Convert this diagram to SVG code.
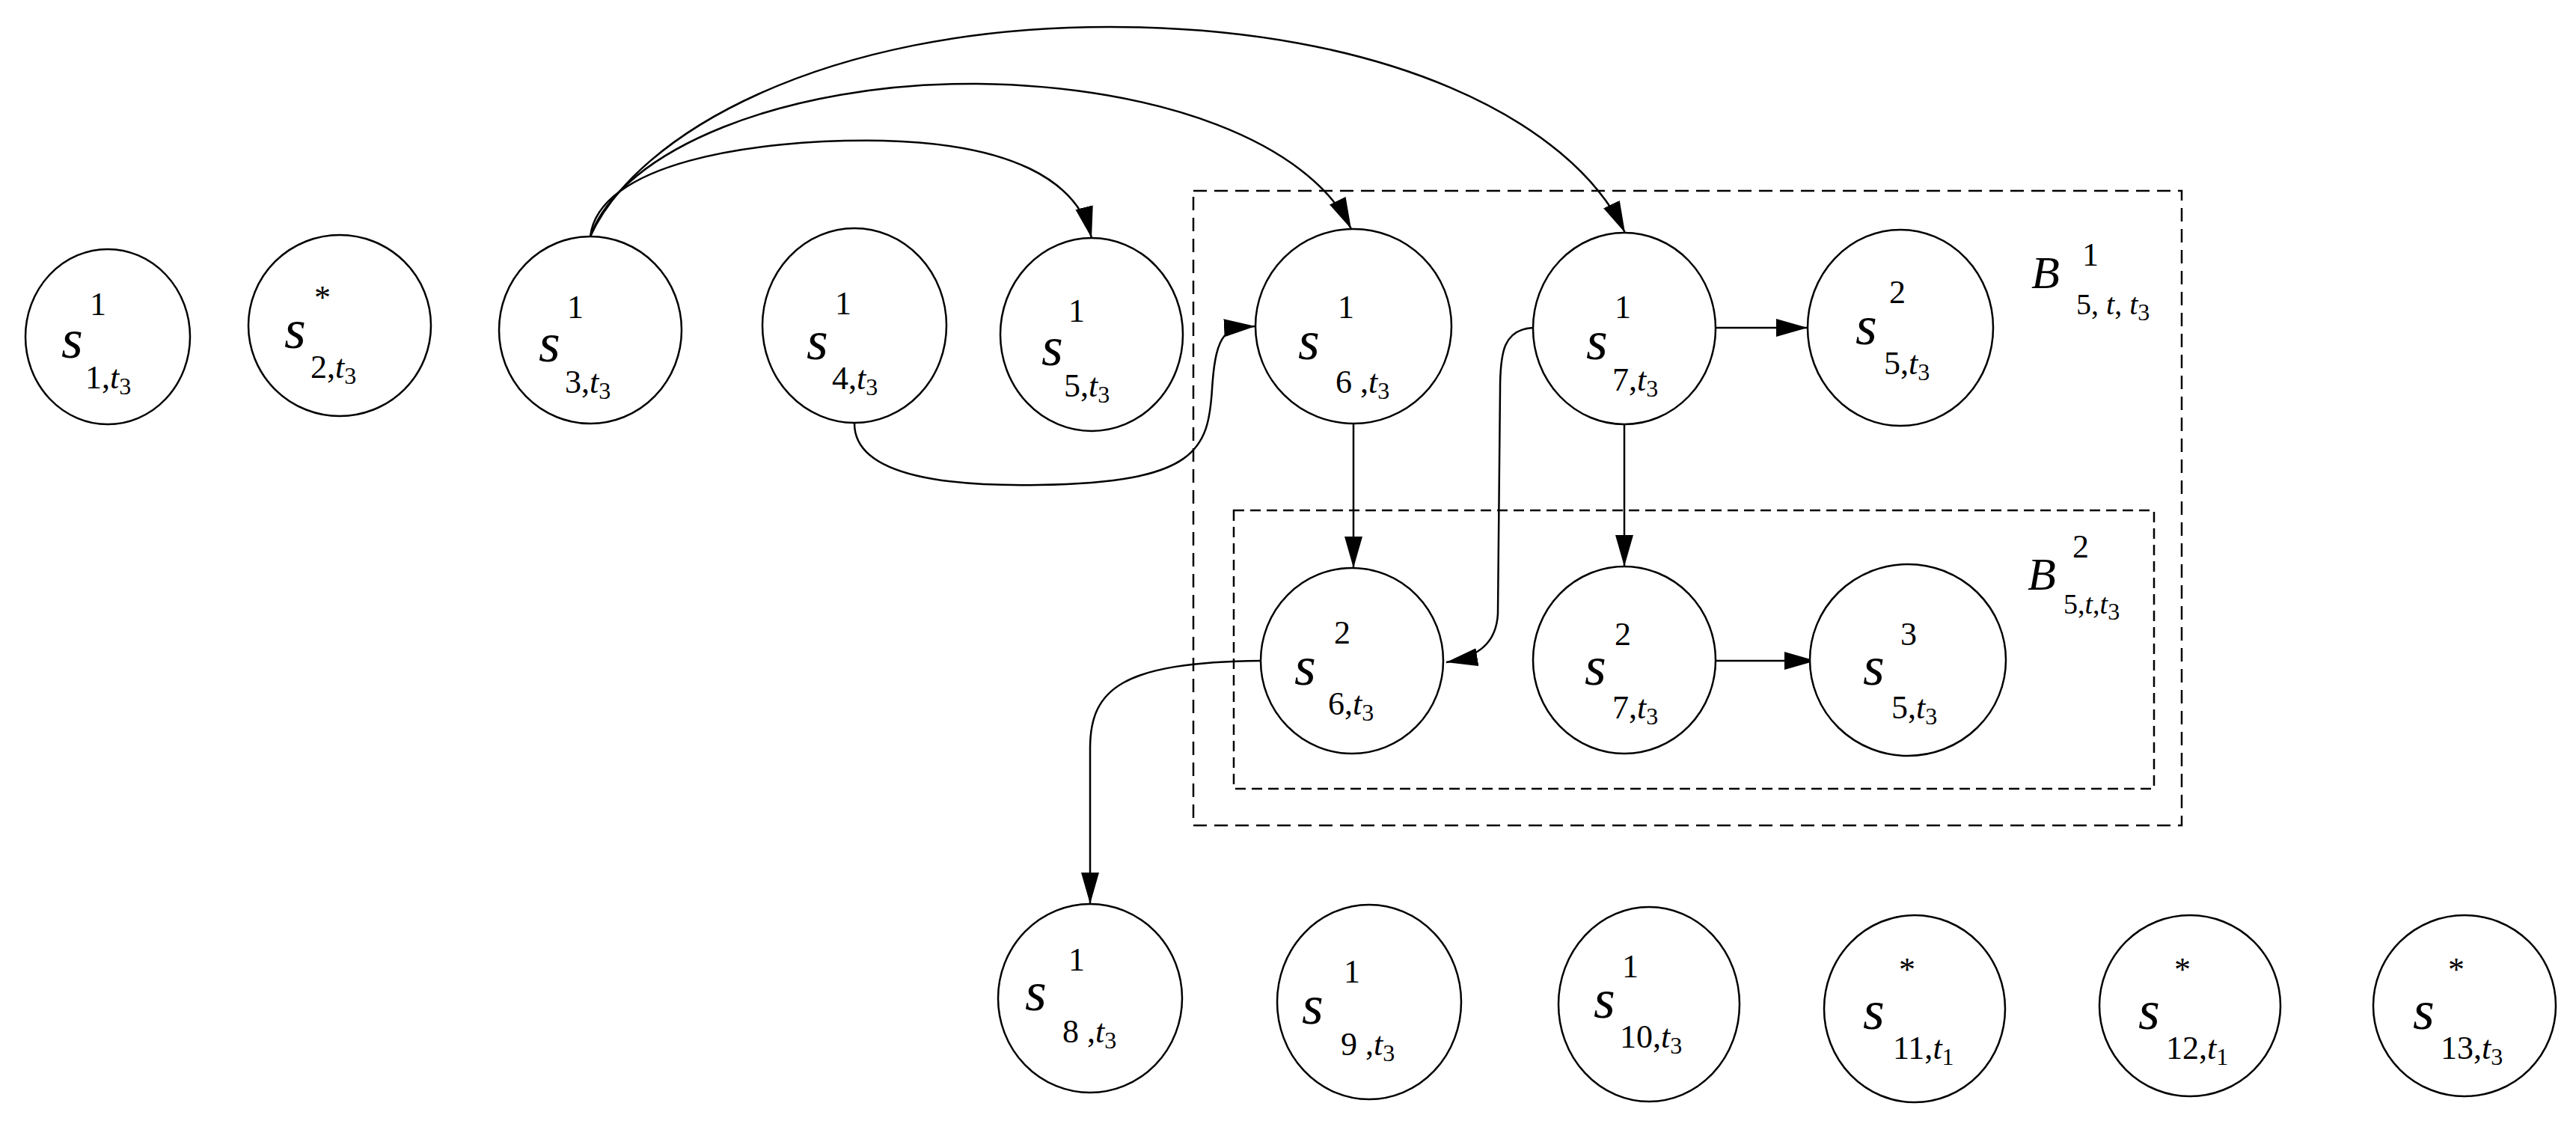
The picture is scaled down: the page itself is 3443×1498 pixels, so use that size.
<svg xmlns="http://www.w3.org/2000/svg" width="3443" height="1498" viewBox="0 0 3443 1498">
<style>
.n{fill:#fff;stroke:#000;stroke-width:2.5}
.S{font-family:"Liberation Serif",serif;font-style:italic;font-size:74px}
.p{font-family:"Liberation Serif",serif;font-size:44px}
.i{font-style:italic}
.q{font-size:32px}
.c{fill:none;stroke:#000;stroke-width:2.5}
.box{fill:none;stroke:#000;stroke-width:2.5;stroke-dasharray:18 10}
</style>
<defs>
<marker id="a" markerUnits="userSpaceOnUse" markerWidth="44" markerHeight="26" refX="42" refY="12" orient="auto" viewBox="0 0 44 26">
<path d="M0,0 L42,12 L0,24 z" fill="#000"/>
</marker>
</defs>
<rect class="box" x="1595" y="255" width="1321" height="848"/>
<rect class="box" x="1649" y="682" width="1230" height="372" style="stroke-dasharray:14 8"/>
<g id="B1"><text class="S" x="2715" y="385" style="font-size:62px">B</text><text class="p" x="2783" y="355">1</text><text class="p" x="2775" y="420" style="font-size:40px">5, <tspan class="i">t</tspan>, <tspan class="i">t</tspan><tspan class="q" dy="8">3</tspan></text></g>
<g id="B2"><text class="S" x="2710" y="788" style="font-size:62px">B</text><text class="p" x="2770" y="745">2</text><text class="p" x="2758" y="820" style="font-size:38px">5,<tspan class="i">t</tspan>,<tspan class="i">t</tspan><tspan class="q" dy="8">3</tspan></text></g>
<g id="connectors">
<path class="c" marker-end="url(#a)" d="M789,316 C800,220 1000,185 1180,188 C1350,192 1440,240 1459,318"/>
<path class="c" marker-end="url(#a)" d="M789,316 C830,200 1050,110 1307,112 C1550,115 1750,190 1806,306"/>
<path class="c" marker-end="url(#a)" d="M789,316 C850,180 1100,36 1483,36 C1850,36 2100,160 2172,311"/>
<path class="c" marker-end="url(#a)" d="M1142,566 C1142,640 1280,650 1389,648 C1600,645 1615,600 1620,520 C1625,440 1640,438 1678,436"/>
<path class="c" marker-end="url(#a)" d="M2049,438 C2010,440 2005,470 2005,520 L2002,820 C2000,860 1975,878 1933,885"/>
<path class="c" marker-end="url(#a)" d="M1685,883 C1500,885 1457,920 1457,1000 L1457,1208"/>
<path class="c" marker-end="url(#a)" d="M1809,562 L1809,759"/>
<path class="c" marker-end="url(#a)" d="M2171,565 L2171,757"/>
<path class="c" marker-end="url(#a)" d="M2293,438 L2416,438"/>
<path class="c" marker-end="url(#a)" d="M2293,883 L2427,883"/>
</g>
<g id="n1"><ellipse class="n" cx="144" cy="450" rx="110" ry="117"/><text class="S" x="82" y="478">s</text><text class="p" x="120" y="421">1</text><text class="p" x="114" y="519">1,<tspan class="i">t</tspan><tspan class="q" dy="8">3</tspan></text></g>
<g id="n2"><ellipse class="n" cx="454" cy="435" rx="122" ry="121"/><text class="S" x="380" y="465">s</text><text class="p" x="420" y="412">*</text><text class="p" x="415" y="505">2,<tspan class="i">t</tspan><tspan class="q" dy="8">3</tspan></text></g>
<g id="n3"><ellipse class="n" cx="789" cy="441" rx="122" ry="125"/><text class="S" x="720" y="483">s</text><text class="p" x="758" y="425">1</text><text class="p" x="755" y="525">3,<tspan class="i">t</tspan><tspan class="q" dy="8">3</tspan></text></g>
<g id="n4"><ellipse class="n" cx="1142" cy="435" rx="123" ry="130"/><text class="S" x="1078" y="480">s</text><text class="p" x="1116" y="420">1</text><text class="p" x="1112" y="520">4,<tspan class="i">t</tspan><tspan class="q" dy="8">3</tspan></text></g>
<g id="n5"><ellipse class="n" cx="1459" cy="447" rx="122" ry="129"/><text class="S" x="1392" y="488">s</text><text class="p" x="1428" y="430">1</text><text class="p" x="1422" y="530">5,<tspan class="i">t</tspan><tspan class="q" dy="8">3</tspan></text></g>
<g id="n6a"><ellipse class="n" cx="1809" cy="436" rx="131" ry="130"/><text class="S" x="1735" y="480">s</text><text class="p" x="1788" y="425">1</text><text class="p" x="1785" y="525">6 ,<tspan class="i">t</tspan><tspan class="q" dy="8">3</tspan></text></g>
<g id="n7a"><ellipse class="n" cx="2171" cy="439" rx="122" ry="128"/><text class="S" x="2120" y="480">s</text><text class="p" x="2158" y="425">1</text><text class="p" x="2155" y="522">7,<tspan class="i">t</tspan><tspan class="q" dy="8">3</tspan></text></g>
<g id="n5b"><ellipse class="n" cx="2540" cy="438" rx="124" ry="131"/><text class="S" x="2480" y="460">s</text><text class="p" x="2525" y="405">2</text><text class="p" x="2518" y="500">5,<tspan class="i">t</tspan><tspan class="q" dy="8">3</tspan></text></g>
<g id="n6b"><ellipse class="n" cx="1807" cy="883" rx="122" ry="124"/><text class="S" x="1730" y="915">s</text><text class="p" x="1783" y="860">2</text><text class="p" x="1775" y="955">6,<tspan class="i">t</tspan><tspan class="q" dy="8">3</tspan></text></g>
<g id="n7b"><ellipse class="n" cx="2171" cy="882" rx="122" ry="125"/><text class="S" x="2118" y="915">s</text><text class="p" x="2158" y="862">2</text><text class="p" x="2155" y="960">7,<tspan class="i">t</tspan><tspan class="q" dy="8">3</tspan></text></g>
<g id="n5c"><ellipse class="n" cx="2550" cy="882" rx="131" ry="128"/><text class="S" x="2490" y="915">s</text><text class="p" x="2540" y="862">3</text><text class="p" x="2528" y="960">5,<tspan class="i">t</tspan><tspan class="q" dy="8">3</tspan></text></g>
<g id="n8"><ellipse class="n" cx="1457" cy="1334" rx="123" ry="126"/><text class="S" x="1370" y="1350">s</text><text class="p" x="1428" y="1297">1</text><text class="p" x="1420" y="1393">8 ,<tspan class="i">t</tspan><tspan class="q" dy="8">3</tspan></text></g>
<g id="n9"><ellipse class="n" cx="1830" cy="1339" rx="123" ry="130"/><text class="S" x="1740" y="1368">s</text><text class="p" x="1796" y="1313">1</text><text class="p" x="1792" y="1410">9 ,<tspan class="i">t</tspan><tspan class="q" dy="8">3</tspan></text></g>
<g id="n10"><ellipse class="n" cx="2204" cy="1342" rx="121" ry="130"/><text class="S" x="2130" y="1360">s</text><text class="p" x="2168" y="1306">1</text><text class="p" x="2165" y="1400">10,<tspan class="i">t</tspan><tspan class="q" dy="8">3</tspan></text></g>
<g id="n11"><ellipse class="n" cx="2559" cy="1348" rx="121" ry="125"/><text class="S" x="2490" y="1375">s</text><text class="p" x="2538" y="1310">*</text><text class="p" x="2530" y="1415">11,<tspan class="i">t</tspan><tspan class="q" dy="8">1</tspan></text></g>
<g id="n12"><ellipse class="n" cx="2927" cy="1344" rx="121" ry="121"/><text class="S" x="2858" y="1375">s</text><text class="p" x="2906" y="1310">*</text><text class="p" x="2895" y="1415">12,<tspan class="i">t</tspan><tspan class="q" dy="8">1</tspan></text></g>
<g id="n13"><ellipse class="n" cx="3294" cy="1344" rx="122" ry="121"/><text class="S" x="3225" y="1375">s</text><text class="p" x="3272" y="1310">*</text><text class="p" x="3262" y="1415">13,<tspan class="i">t</tspan><tspan class="q" dy="8">3</tspan></text></g>
</svg>
